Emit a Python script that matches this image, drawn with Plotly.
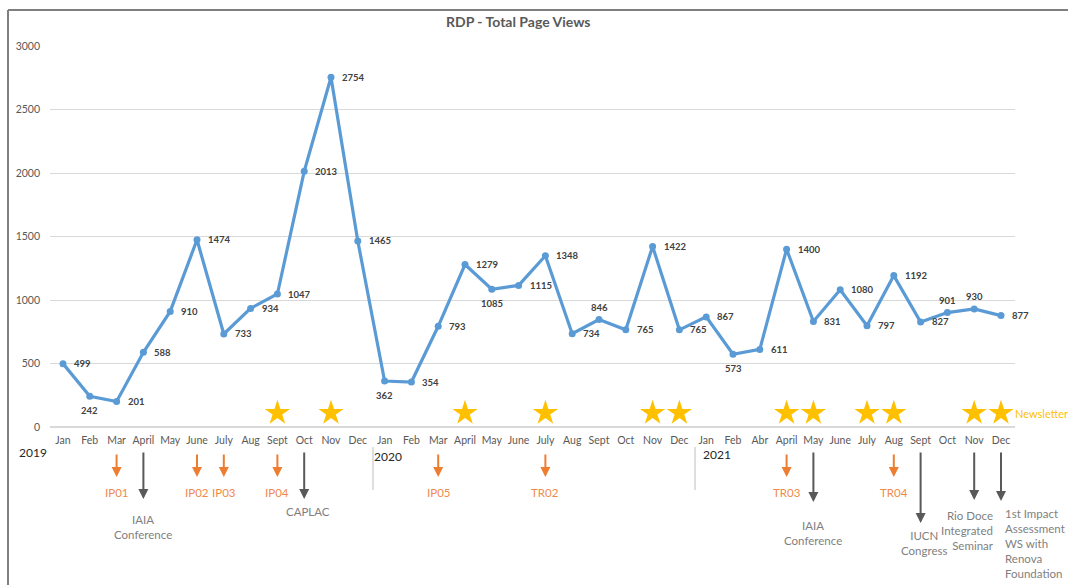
import plotly.graph_objects as go

# ---------------- data ----------------
months_2019 = ["Jan", "Feb", "Mar", "April", "May", "June", "July", "Aug", "Sept", "Oct", "Nov", "Dec"]
months_2020 = ["Jan", "Feb", "Mar", "April", "May", "June", "July", "Aug", "Sept", "Oct", "Nov", "Dec"]
months_2021 = ["Jan", "Feb", "Abr", "April", "May", "June", "July", "Aug", "Sept", "Oct", "Nov", "Dec"]
tick_labels = months_2019 + months_2020 + months_2021

views_2019 = [499, 242, 201, 588, 910, 1474, 733, 934, 1047, 2013, 2754, 1465]
views_2020 = [362, 354, 793, 1279, 1085, 1115, 1348, 734, 846, 765, 1422, 765]
views_2021 = [867, 573, 611, 1400, 831, 1080, 797, 1192, 827, 901, 930, 877]
views = views_2019 + views_2020 + views_2021

# label placement: r = right, b = below, t = above
label_pos = (["r", "b", "r", "r", "r", "r", "r", "r", "r", "r", "r", "r"] +
             ["b", "r", "r", "r", "b", "r", "r", "r", "t", "r", "r", "r"] +
             ["r", "b", "r", "r", "r", "r", "r", "r", "r", "t", "t", "r"])

years = ["2019", "2020", "2021"]

newsletter_idx = [8, 10, 15, 18, 22, 23, 27, 28, 30, 31, 34, 35]
newsletter_level = 110

orange_events = ["IP01", "IP02", "IP03", "IP04", "IP05", "TR02", "TR03", "TR04"]
orange_idx = [2, 5, 6, 8, 14, 18, 27, 31]

gray_events = ["IAIA<br>Conference", "CAPLAC", "IAIA<br>Conference", "IUCN<br>Congress",
               "Rio Doce<br>Integrated<br>Seminar",
               "1st Impact<br>Assessment<br>WS with<br>Renova<br>Foundation"]
gray_idx = [3, 9, 28, 32, 34, 35]

# ---------------- layout helpers (pixels -> paper) ----------------
W, H = 1068, 585
PL, PR, PT, PB = 50, 1015, 46, 427


def px(p):
    return (p - PL) / (PR - PL)


def py(p):
    return (PB - p) / (PB - PT)


FONT = "Lato, 'Open Sans', sans-serif"
x = list(range(len(views)))

fig = go.Figure()

fig.add_trace(go.Scatter(
    x=x, y=views, mode="lines+markers",
    line=dict(color="#5B9BD5", width=3.2),
    marker=dict(color="#5B9BD5", size=7),
    hoverinfo="skip", showlegend=False,
))

fig.add_trace(go.Scatter(
    x=newsletter_idx, y=[newsletter_level] * len(newsletter_idx), mode="markers",
    marker=dict(symbol="star", size=19, color="#FFC000", line=dict(width=0)),
    hoverinfo="skip", showlegend=False,
))

annotations = []

# data labels
for i, (v, pos) in enumerate(zip(views, label_pos)):
    a = dict(x=i, y=v, xref="x", yref="y", text=f"<b>{v}</b>", showarrow=False,
             font=dict(family=FONT, size=9.5, color="#404040"))
    if pos == "r":
        a.update(xanchor="left", yanchor="middle", xshift=9)
    elif pos == "b":
        a.update(xanchor="center", yanchor="middle", yshift=-14)
    else:
        a.update(xanchor="center", yanchor="middle", yshift=12)
    annotations.append(a)

# title
annotations.append(dict(x=px(518), y=py(22), xref="paper", yref="paper",
                        text="<b>RDP - Total Page Views</b>", showarrow=False,
                        font=dict(family=FONT, size=14, color="#595959"),
                        xanchor="center", yanchor="middle"))

# newsletter legend text
annotations.append(dict(x=newsletter_idx[-1], y=newsletter_level, xref="x", yref="y",
                        text="Newsletter", showarrow=False, xanchor="left", xshift=12,
                        font=dict(family=FONT, size=11, color="#FFC000")))

# year labels
year_px = [(33, 452), (388, 456), (717, 454)]
for yr, (xp, yp) in zip(years, year_px):
    annotations.append(dict(x=px(xp), y=py(yp), xref="paper", yref="paper", text=yr,
                            showarrow=False, xanchor="center", yanchor="middle",
                            font=dict(family=FONT, size=12, color="#262626")))

# orange arrows + labels
for name, i in zip(orange_events, orange_idx):
    annotations.append(dict(x=i, y=py(477), xref="x", yref="paper", text="",
                            showarrow=True, ax=0, ay=-24, arrowhead=2, arrowsize=1,
                            arrowwidth=2, arrowcolor="#ED7D31"))
    annotations.append(dict(x=i, y=py(492), xref="x", yref="paper", text=name,
                            showarrow=False, xanchor="center", yanchor="middle",
                            font=dict(family=FONT, size=11.5, color="#F08A4B")))

# gray arrows + labels
gray_tip = [499, 499, 502, 523, 500, 501]
gray_text = [(0, 527, "center"), (4, 511, "center"), (0, 533, "center"),
             (3, 543, "center"), (22, 530, "right"), (2, 543, "left")]
for name, i, tip, (dx, ty, al) in zip(gray_events, gray_idx, gray_tip, gray_text):
    annotations.append(dict(x=i, y=py(tip), xref="x", yref="paper", text="",
                            showarrow=True, ax=0, ay=-(tip - 451), arrowhead=2,
                            arrowsize=1, arrowwidth=2, arrowcolor="#595959"))
    annotations.append(dict(x=i, y=py(ty), xref="x", yref="paper", text=name,
                            showarrow=False, xanchor=al, yanchor="middle", align=al,
                            xshift=dx,
                            font=dict(family=FONT, size=11.5, color="#7F7F7F")))

shapes = [
    # outer border (top and left)
    dict(type="line", xref="paper", yref="paper", x0=px(8), x1=px(W + 5), y0=py(10), y1=py(10),
         line=dict(color="#7F7F7F", width=2)),
    dict(type="line", xref="paper", yref="paper", x0=px(8), x1=px(8), y0=py(10), y1=py(H + 5),
         line=dict(color="#7F7F7F", width=2)),
    # year separators
    dict(type="line", xref="paper", yref="paper", x0=px(373), x1=px(373), y0=py(447), y1=py(490),
         line=dict(color="#BFBFBF", width=1)),
    dict(type="line", xref="paper", yref="paper", x0=px(695), x1=px(695), y0=py(447), y1=py(490),
         line=dict(color="#BFBFBF", width=1)),
]

unit = (1001 - 63) / 35
fig.update_layout(
    width=W, height=H,
    margin=dict(l=PL, r=W - PR, t=PT, b=H - PB),
    plot_bgcolor="white", paper_bgcolor="white",
    font=dict(family=FONT),
    xaxis=dict(range=[-(63 - PL) / unit, 35 + (PR - 1001) / unit],
               tickmode="array", tickvals=x, ticktext=tick_labels,
               showgrid=False, zeroline=False, showline=False, ticks="",
               ticklabelstandoff=5,
               tickfont=dict(family=FONT, size=10.5, color="#595959")),
    yaxis=dict(range=[0, 3000], tickvals=[0, 500, 1000, 1500, 2000, 2500, 3000],
               showgrid=True, gridcolor="#D9D9D9", gridwidth=1,
               zeroline=True, zerolinecolor="#D9D9D9", showline=False, ticks="",
               ticklabelstandoff=9,
               tickfont=dict(family=FONT, size=10.5, color="#595959")),
    annotations=annotations,
    shapes=shapes,
)

fig.write_html("out.html", config={"displayModeBar": False},
               post_script="document.body.style.margin='0';document.body.style.overflow='hidden';")
